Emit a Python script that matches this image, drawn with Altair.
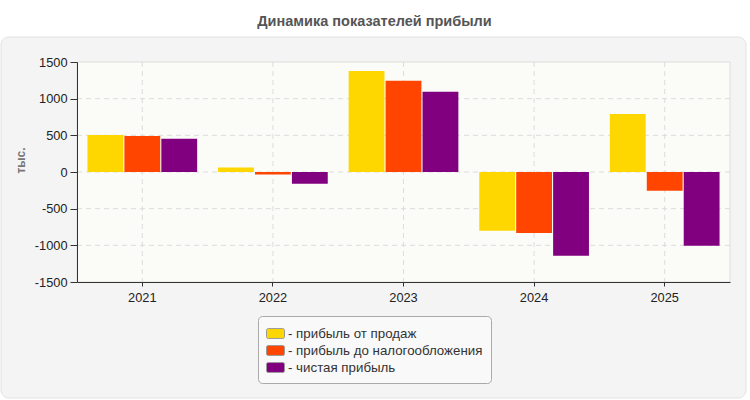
import altair as alt
import pandas as pd

# Profit figures, thousands
years = ["2021", "2022", "2023", "2024", "2025"]
sales_profit = [505, 60, 1378, -800, 791]
pretax_profit = [490, -35, 1246, -832, -255]
net_profit = [454, -160, 1096, -1141, -1005]

series_names = ["прибыль от продаж", "прибыль до налогообложения", "чистая прибыль"]
series_colors = ["#FFD700", "#FF4500", "#800080"]
y_ticks = [-1500, -1000, -500, 0, 500, 1000, 1500]
grid_values = [-1000, -500, 0, 500, 1000]

rows = []
for name, values in zip(series_names, [sales_profit, pretax_profit, net_profit]):
    for year, v in zip(years, values):
        rows.append({"year": year, "series": name, "value": v})
df = pd.DataFrame(rows)

W, H = 653, 220
FONT = "Liberation Sans"

x_scale = alt.Scale(domain=years, paddingInner=0.16, paddingOuter=0.08)
y_scale = alt.Scale(domain=[-1500, 1500], nice=False)

x_axis = alt.Axis(
    title=None, labelAngle=0, grid=False, zindex=1,
    domainColor="#333333", tickColor="#333333", tickSize=4,
    labelFontSize=12.8, labelColor="#222222", labelPadding=5, labelFont=FONT,
)
y_axis = alt.Axis(
    values=y_ticks, grid=False, zindex=1, title="тыс.",
    labelExpr="'' + datum.value", labelOverlap=False,
    domainColor="#333333", tickColor="#333333", tickSize=7,
    labelFontSize=12.8, labelColor="#222222", labelPadding=3, labelFont=FONT,
    titleFont=FONT, titleFontSize=12, titleFontWeight="bold", titleColor="#777777",
    titleX=-57, titleY=98, titleAngle=-90, titleAlign="center", titleBaseline="middle",
)

# Rounded panel behind the whole chart
panel = alt.Chart(pd.DataFrame({"p": [0]})).mark_rect(
    fill="#f4f4f4", stroke="#e2e2e2", strokeWidth=1, cornerRadius=8
).encode(
    x=alt.value(-76), x2=alt.value(669), y=alt.value(-25), y2=alt.value(336)
)

# Plot area background
plot_bg = alt.Chart(pd.DataFrame({"p": [0]})).mark_rect(
    fill="#fbfbf8", stroke="#dddddd", strokeWidth=1
).encode(
    x=alt.value(0), x2=alt.value(W), y=alt.value(0), y2=alt.value(H)
)

# Dashed grid lines
h_grid = alt.Chart(pd.DataFrame({"value": grid_values})).mark_rule(
    color="#dcdcdc", strokeDash=[5, 4], strokeWidth=1
).encode(y=alt.Y("value:Q", scale=y_scale, axis=y_axis))

v_grid = alt.Chart(pd.DataFrame({"year": years})).mark_rule(
    color="#dcdcdc", strokeDash=[5, 4], strokeWidth=1
).encode(x=alt.X("year:N", scale=x_scale, sort=years, axis=x_axis))

bars = alt.Chart(df).mark_bar().encode(
    x=alt.X("year:N", scale=x_scale, sort=years, axis=x_axis),
    xOffset=alt.XOffset("series:N", sort=series_names,
                        scale=alt.Scale(paddingInner=0.03, paddingOuter=0)),
    y=alt.Y("value:Q", scale=y_scale, axis=y_axis),
    color=alt.Color(
        "series:N",
        sort=series_names,
        scale=alt.Scale(domain=series_names, range=series_colors),
        legend=alt.Legend(
            title=None, orient="none", legendX=181, legendY=254,
            labelExpr="'- ' + datum.label",
            symbolType="M-0.8,-0.55H0.8A0.2,0.2 0 0 1 1,-0.35V0.35A0.2,0.2 0 0 1 0.8,0.55H-0.8A0.2,0.2 0 0 1 -1,0.35V-0.35A0.2,0.2 0 0 1 -0.8,-0.55Z",
            symbolSize=324, symbolStrokeColor="#999999", symbolStrokeWidth=1,
            symbolOpacity=1, symbolOffset=0,
            labelFont=FONT, labelFontSize=13.3, labelColor="#333333", labelOffset=3,
            rowPadding=0, padding=8, fillColor="#f9f9f9", strokeColor="#aaaaaa",
            cornerRadius=4, labelLimit=400,
        ),
    ),
)

chart = alt.layer(panel, plot_bg, h_grid, v_grid, bars).properties(
    width=W,
    height=H,
    autosize=alt.AutoSizeParams(type="none"),
    padding={"left": 77, "top": 62, "right": 20, "bottom": 118},
    background="white",
    title=alt.TitleParams(
        "Динамика показателей прибыли",
        font=FONT, fontSize=14.5, fontWeight="bold", color="#555555",
        anchor="middle", frame="group", dx=-29, offset=7,
    ),
).configure_view(stroke=None)

chart.save("out.html", embed_options={"renderer": "svg", "actions": False})
